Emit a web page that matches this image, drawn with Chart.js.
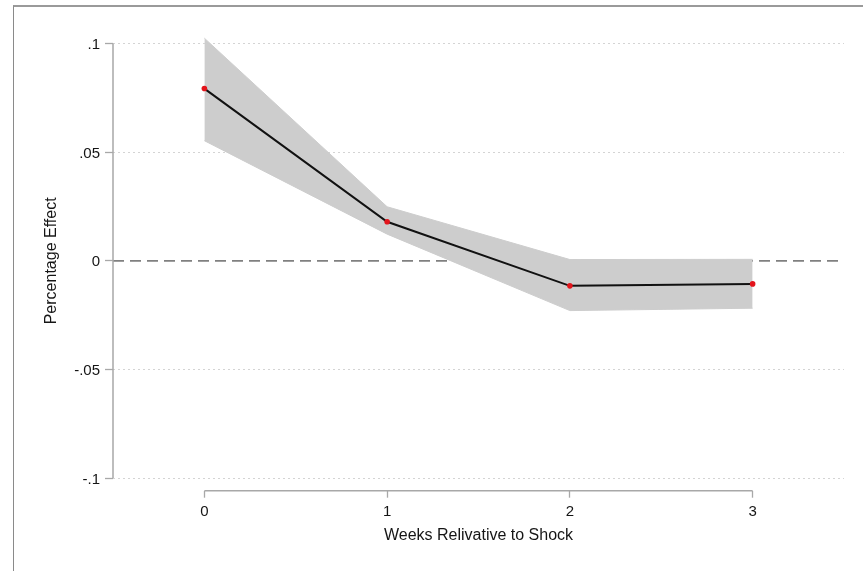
<!DOCTYPE html>
<html>
<head>
<meta charset="utf-8">
<script src="https://cdn.jsdelivr.net/npm/chart.js@4/dist/chart.umd.min.js"></script>
<style>
    html, body { margin: 0; padding: 0; background: #fff; }
    #wrap { position: relative; width: 863px; height: 571px; overflow: hidden; }
    #frame {
        position: absolute; left: 13px; top: 5px; width: 900px; height: 600px;
        border-top: 2px solid #9a9a9a; border-left: 1px solid #8a8a8a;
        pointer-events: none;
    }
    canvas { position: absolute; left: 0; top: 0; }
</style>
</head>
<body>
<div id="wrap">
    <div id="frame"></div>
    <canvas id="chart" width="863" height="571"></canvas>
</div>
<script>
// data
const weeks = [0, 1, 2, 3];
const estimate = [0.0793, 0.0180, -0.0115, -0.0106];
const ciUpper = [0.1025, 0.0249, 0.0006, 0.0007];
const ciLower = [0.0553, 0.0123, -0.0229, -0.0218];
const xTicks = [0, 1, 2, 3];
const yTicks = [-0.1, -0.05, 0, 0.05, 0.1];
const refLine = 0;

const FONT = "'Liberation Sans', Arial, Helvetica, sans-serif";

function points(ys) {
    return weeks.map(function (w, i) { return { x: w, y: ys[i] }; });
}

function fmtTick(v) {
    if (Math.abs(v) < 1e-9) return "0";
    let s = String(Math.round(v * 1000) / 1000);
    return s.replace("0.", ".");
}

// stata-like axis lines (only over the tick range) and the dashed zero line
const stataBits = {
    id: "stataBits",
    beforeDatasetsDraw: function (chart) {
        const ctx = chart.ctx;
        const x = chart.scales.x;
        const y = chart.scales.y;
        const area = chart.chartArea;
        ctx.save();
        ctx.strokeStyle = "#808080";
        ctx.lineWidth = 1.7;
        ctx.setLineDash([11, 6]);
        const y0 = y.getPixelForValue(refLine);
        ctx.beginPath();
        ctx.moveTo(area.left, y0);
        ctx.lineTo(area.right, y0);
        ctx.stroke();
        ctx.setLineDash([]);
        ctx.strokeStyle = "#a8a8a8";
        ctx.lineWidth = 1.5;
        ctx.beginPath();
        ctx.moveTo(area.left, y.getPixelForValue(yTicks[yTicks.length - 1]));
        ctx.lineTo(area.left, y.getPixelForValue(yTicks[0]));
        ctx.moveTo(x.getPixelForValue(xTicks[0]), area.bottom);
        ctx.lineTo(x.getPixelForValue(xTicks[xTicks.length - 1]), area.bottom);
        ctx.stroke();
        ctx.restore();
    }
};

new Chart(document.getElementById("chart"), {
    type: "line",
    data: {
        datasets: [
            {
                label: "Estimate",
                data: points(estimate),
                borderColor: "#111111",
                borderWidth: 2,
                pointRadius: 2.8,
                pointBackgroundColor: "#e3141b",
                pointBorderWidth: 0,
                fill: false,
                order: 0
            },
            {
                label: "Upper",
                data: points(ciUpper),
                borderColor: "#cdcdcd",
                borderWidth: 1,
                backgroundColor: "#cdcdcd",
                pointRadius: 0,
                fill: "+1",
                order: 1
            },
            {
                label: "Lower",
                data: points(ciLower),
                borderColor: "#cdcdcd",
                borderWidth: 1,
                pointRadius: 0,
                fill: false,
                order: 2
            }
        ]
    },
    options: {
        responsive: false,
        animation: false,
        events: [],
        layout: { padding: { left: 20, right: 19, top: 31, bottom: 0 } },
        plugins: {
            legend: { display: false },
            tooltip: { enabled: false }
        },
        scales: {
            x: {
                type: "linear",
                min: -0.5,
                max: 3.5,
                afterBuildTicks: function (scale) {
                    scale.ticks = xTicks.map(function (v) { return { value: v }; });
                },
                afterFit: function (scale) { scale.height = 80.3; },
                grid: {
                    display: true,
                    drawOnChartArea: false,
                    drawTicks: true,
                    tickLength: 7,
                    tickColor: "#a8a8a8",
                    tickWidth: 1.3
                },
                border: { display: false },
                ticks: {
                    padding: 5,
                    color: "#151515",
                    font: { family: FONT, size: 15 },
                    callback: function (v) { return String(v); }
                },
                title: {
                    display: true,
                    text: "Weeks Relivative to Shock",
                    color: "#151515",
                    font: { family: FONT, size: 16 },
                    padding: { top: 0, bottom: 26 }
                }
            },
            y: {
                min: -0.1058,
                max: 0.1058,
                afterBuildTicks: function (scale) {
                    scale.ticks = yTicks.map(function (v) { return { value: v }; });
                },
                afterFit: function (scale) { scale.width = 93; },
                grid: {
                    display: true,
                    drawTicks: true,
                    tickLength: 8,
                    tickColor: "#a8a8a8",
                    tickWidth: 1.3,
                    lineWidth: 1,
                    color: function (c) {
                        return c.tick && Math.abs(c.tick.value) < 1e-9 ? "rgba(0,0,0,0)" : "#d4d4d4";
                    }
                },
                border: { display: false, dash: [2, 3] },
                ticks: {
                    padding: 5,
                    labelOffset: 1.5,
                    color: "#151515",
                    font: { family: FONT, size: 15 },
                    callback: function (v) { return fmtTick(v); }
                },
                title: {
                    display: true,
                    text: "Percentage Effect",
                    color: "#151515",
                    font: { family: FONT, size: 16 },
                    padding: { top: 22, bottom: 0 }
                }
            }
        }
    },
    plugins: [stataBits]
});
</script>
</body>
</html>
